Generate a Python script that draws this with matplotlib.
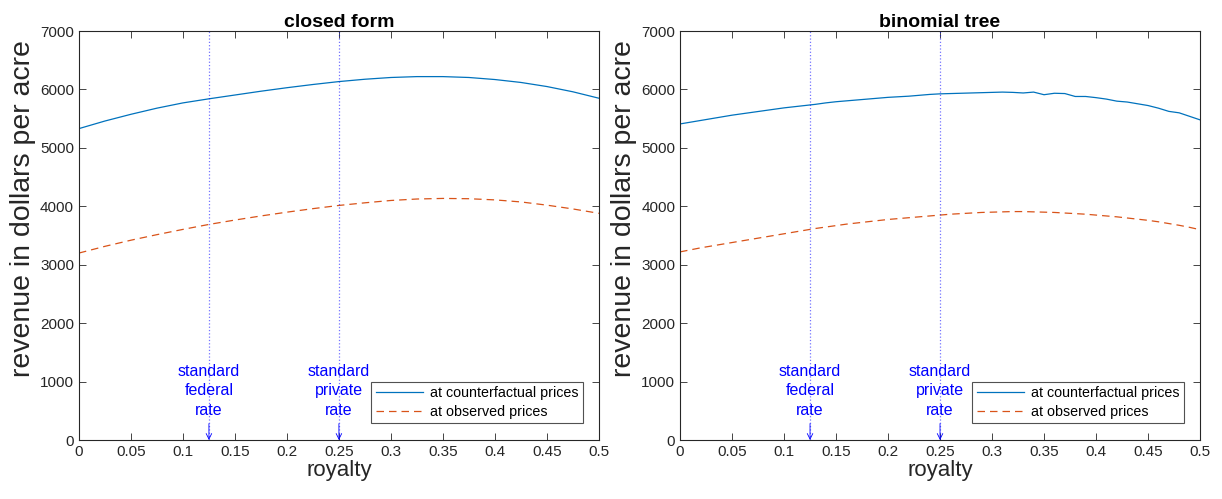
import numpy as np
import matplotlib.pyplot as plt

plt.rcParams['font.family'] = ['Liberation Sans', 'DejaVu Sans']

# closed form, royalty step 0.025
royalty_cf = np.arange(0, 0.5001, 0.025)
closed_counterfactual = [5330, 5460, 5575, 5680, 5770, 5840, 5905, 5970, 6030, 6085, 6135,
                         6175, 6205, 6220, 6220, 6205, 6170, 6120, 6050, 5960, 5850]
closed_observed = [3200, 3315, 3420, 3515, 3605, 3690, 3765, 3835, 3900, 3960, 4015,
                   4060, 4100, 4125, 4135, 4130, 4110, 4075, 4020, 3955, 3880]

# binomial tree, royalty step 0.01
royalty_bt = np.arange(0, 0.5001, 0.01)
tree_counterfactual = [5410, 5440, 5470, 5500, 5530, 5560, 5585, 5610, 5635, 5660,
                       5685, 5705, 5725, 5745, 5770, 5790, 5805, 5820, 5835, 5850,
                       5865, 5875, 5885, 5900, 5915, 5925, 5930, 5935, 5940, 5945,
                       5950, 5955, 5950, 5940, 5955, 5910, 5935, 5930, 5880, 5880,
                       5860, 5835, 5800, 5785, 5755, 5725, 5680, 5625, 5600, 5540, 5480]
tree_observed = [3220, 3255, 3290, 3320, 3350, 3380, 3410, 3440, 3470, 3500,
                 3530, 3560, 3590, 3620, 3645, 3670, 3695, 3715, 3735, 3755,
                 3775, 3790, 3805, 3820, 3835, 3850, 3865, 3875, 3885, 3895,
                 3900, 3905, 3910, 3910, 3905, 3900, 3895, 3885, 3875, 3865,
                 3850, 3835, 3820, 3800, 3780, 3760, 3735, 3705, 3675, 3640, 3600]

rates = [0.125, 0.25]
rate_labels = ['standard\nfederal\nrate', 'standard\nprivate\nrate']

BLUE = '#0072BD'
ORANGE = '#D95319'

fig = plt.figure(figsize=(12.22, 4.99), dpi=100)
ax1 = fig.add_axes([0.0646, 0.1182, 0.4255, 0.8196])
ax2 = fig.add_axes([0.5565, 0.1182, 0.4255, 0.8196])

panels = [
    (ax1, 'closed form', royalty_cf, closed_counterfactual, closed_observed),
    (ax2, 'binomial tree', royalty_bt, tree_counterfactual, tree_observed),
]

for ax, title, x, cf, obs in panels:
    ax.plot(x, cf, color=BLUE, lw=0.9, label='at counterfactual prices')
    ax.plot(x, obs, color=ORANGE, lw=0.9, ls=(0, (6, 4)), label='at observed prices')
    for r, lab in zip(rates, rate_labels):
        ax.axvline(r, color='blue', ls=':', lw=0.9, alpha=0.55)
        ax.annotate('', xy=(r, 0), xytext=(r, 280),
                    arrowprops=dict(arrowstyle='->', color='blue', lw=0.6,
                                    shrinkA=0, shrinkB=0))
        ax.text(r, 840, lab, color='blue', ha='center', va='center',
                fontsize=11.5, linespacing=1.4)
    ax.set_xlim(0, 0.5)
    ax.set_ylim(0, 7000)
    ax.set_xticks(np.arange(0, 0.5001, 0.05))
    ax.set_xticklabels(['0', '0.05', '0.1', '0.15', '0.2', '0.25', '0.3', '0.35',
                        '0.4', '0.45', '0.5'])
    ax.set_yticks(range(0, 7001, 1000))
    ax.tick_params(direction='in', top=True, right=True, labelsize=11,
                   length=5, width=0.6, color='#262626', labelcolor='#262626')
    for s in ax.spines.values():
        s.set_linewidth(0.8)
        s.set_color('#262626')
    ax.set_xlabel('royalty', fontsize=16, labelpad=1, color='#262626')
    ax.set_ylabel('revenue in dollars per acre', fontsize=20.5, color='#262626')
    ax.yaxis.set_label_coords(-0.083, 0.565)
    ax.set_title(title, fontsize=14, fontweight='bold', pad=3)
    leg = ax.legend(loc='lower right', bbox_to_anchor=(0.969, 0.0416),
                    borderaxespad=0, fontsize=10.3, frameon=True, fancybox=False,
                    edgecolor='#262626', borderpad=0.3, handlelength=3.3,
                    labelspacing=0.3, handletextpad=0.5)
    leg.get_frame().set_linewidth(0.8)

fig.savefig('out.png', dpi=100)
